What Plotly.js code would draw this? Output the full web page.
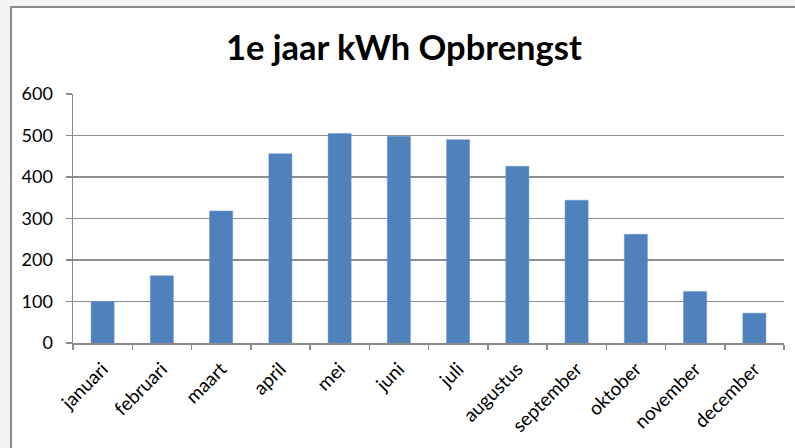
<!DOCTYPE html>
<html>
<head>
<meta charset="utf-8">
<script src="https://cdn.plot.ly/plotly-3.0.1.min.js"></script>
<style>
html,body{margin:0;padding:0;background:#f4f4f4;overflow:hidden;width:795px;height:448px;}
#frame{position:absolute;left:10px;top:6px;width:800px;height:460px;background:#fff;border-left:2px solid #8c8c8c;border-top:2px solid #8c8c8c;}
#chart{position:absolute;left:0;top:0;width:795px;height:448px;}
</style>
</head>
<body>
<div id="frame"></div>
<div id="chart"></div>
<script>
const months = ["januari","februari","maart","april","mei","juni","juli","augustus","september","oktober","november","december"];
const kwh = [100, 162, 318, 456, 505, 498, 490, 426, 344, 262, 124, 72];
const yTicks = [0, 100, 200, 300, 400, 500, 600];

const font = "Lato, Carlito, 'Open Sans', sans-serif";
const trace = {
  type: "bar",
  x: months,
  y: kwh,
  marker: {color: "#4F81BD", line: {color: "#6A96CB", width: 0.5}},
  width: 0.39,
  hoverinfo: "x+y"
};
const layout = {
  width: 795, height: 448,
  margin: {l: 73, r: 11, t: 94, b: 105},
  paper_bgcolor: "rgba(0,0,0,0)",
  plot_bgcolor: "#ffffff",
  showlegend: false,
  title: {text: "<b>1e jaar kWh Opbrengst</b>", font: {family: font, size: 34.5, color: "#000"}, x: 0.508, xanchor: "center", y: 0.893, yanchor: "middle"},
  xaxis: {
    type: "category",
    tickangle: -45,
    ticks: "outside", ticklen: 5, tickcolor: "#8a8a8a", tickwidth: 1.5,
    tickson: "boundaries",
    ticklabelstandoff: 6,
    showline: true, linecolor: "#8a8a8a", linewidth: 1.5,
    showgrid: false,
    tickfont: {family: font, size: 19, color: "#000"},
    range: [-0.5, 11.5]
  },
  yaxis: {
    range: [0, 600],
    tickvals: yTicks,
    ticks: "outside", ticklen: 6, tickcolor: "#8a8a8a", tickwidth: 1.5,
    ticklabelstandoff: 9,
    showline: true, linecolor: "#8a8a8a", linewidth: 1.5,
    showgrid: true, gridcolor: "#8e8e8e", gridwidth: 1.5,
    zeroline: false,
    tickfont: {family: font, size: 18, color: "#000"}
  }
};
Plotly.newPlot("chart", [trace], layout, {displayModeBar: false, staticPlot: true});
</script>
</body>
</html>
